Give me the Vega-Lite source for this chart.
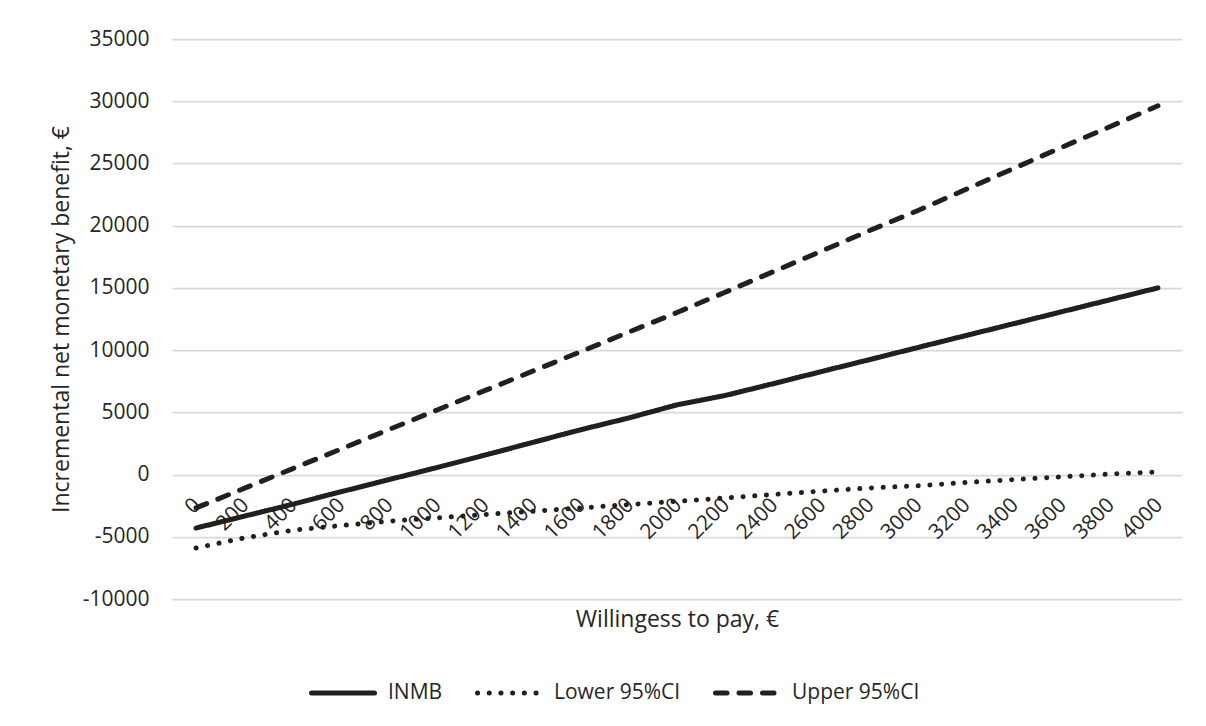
{
  "$schema": "https://vega.github.io/schema/vega-lite/v6.json",
  "width": 1010,
  "height": 560,
  "autosize": {"type": "none"},
  "padding": {"left": 172, "top": 39, "right": 24, "bottom": 127},
  "background": "white",
  "config": {"view": {"stroke": null}, "font": "Open Sans"},
  "data": {
    "values": [
      {"wtp": 0, "series": "INMB", "value": -4300},
      {"wtp": 200, "series": "INMB", "value": -3350},
      {"wtp": 400, "series": "INMB", "value": -2400},
      {"wtp": 600, "series": "INMB", "value": -1400},
      {"wtp": 800, "series": "INMB", "value": -420},
      {"wtp": 1000, "series": "INMB", "value": 550},
      {"wtp": 1200, "series": "INMB", "value": 1550},
      {"wtp": 1400, "series": "INMB", "value": 2580},
      {"wtp": 1600, "series": "INMB", "value": 3600},
      {"wtp": 1800, "series": "INMB", "value": 4550},
      {"wtp": 2000, "series": "INMB", "value": 5600},
      {"wtp": 2200, "series": "INMB", "value": 6350},
      {"wtp": 2400, "series": "INMB", "value": 7300},
      {"wtp": 2600, "series": "INMB", "value": 8270},
      {"wtp": 2800, "series": "INMB", "value": 9230},
      {"wtp": 3000, "series": "INMB", "value": 10200},
      {"wtp": 3200, "series": "INMB", "value": 11160},
      {"wtp": 3400, "series": "INMB", "value": 12120},
      {"wtp": 3600, "series": "INMB", "value": 13080},
      {"wtp": 3800, "series": "INMB", "value": 14040},
      {"wtp": 4000, "series": "INMB", "value": 15000},
      {"wtp": 0, "series": "Lower 95%CI", "value": -5900},
      {"wtp": 200, "series": "Lower 95%CI", "value": -5090},
      {"wtp": 400, "series": "Lower 95%CI", "value": -4480},
      {"wtp": 600, "series": "Lower 95%CI", "value": -4100},
      {"wtp": 800, "series": "Lower 95%CI", "value": -3750},
      {"wtp": 1000, "series": "Lower 95%CI", "value": -3480},
      {"wtp": 1200, "series": "Lower 95%CI", "value": -3210},
      {"wtp": 1400, "series": "Lower 95%CI", "value": -2950},
      {"wtp": 1600, "series": "Lower 95%CI", "value": -2680},
      {"wtp": 1800, "series": "Lower 95%CI", "value": -2410},
      {"wtp": 2000, "series": "Lower 95%CI", "value": -2150},
      {"wtp": 2200, "series": "Lower 95%CI", "value": -1880},
      {"wtp": 2400, "series": "Lower 95%CI", "value": -1600},
      {"wtp": 2600, "series": "Lower 95%CI", "value": -1330},
      {"wtp": 2800, "series": "Lower 95%CI", "value": -1080},
      {"wtp": 3000, "series": "Lower 95%CI", "value": -900},
      {"wtp": 3200, "series": "Lower 95%CI", "value": -640},
      {"wtp": 3400, "series": "Lower 95%CI", "value": -400},
      {"wtp": 3600, "series": "Lower 95%CI", "value": -180},
      {"wtp": 3800, "series": "Lower 95%CI", "value": 40},
      {"wtp": 4000, "series": "Lower 95%CI", "value": 215},
      {"wtp": 0, "series": "Upper 95%CI", "value": -2680},
      {"wtp": 200, "series": "Upper 95%CI", "value": -1110},
      {"wtp": 400, "series": "Upper 95%CI", "value": 460},
      {"wtp": 600, "series": "Upper 95%CI", "value": 2030},
      {"wtp": 800, "series": "Upper 95%CI", "value": 3600},
      {"wtp": 1000, "series": "Upper 95%CI", "value": 5170},
      {"wtp": 1200, "series": "Upper 95%CI", "value": 6740},
      {"wtp": 1400, "series": "Upper 95%CI", "value": 8310},
      {"wtp": 1600, "series": "Upper 95%CI", "value": 9880},
      {"wtp": 1800, "series": "Upper 95%CI", "value": 11450},
      {"wtp": 2000, "series": "Upper 95%CI", "value": 13020},
      {"wtp": 2200, "series": "Upper 95%CI", "value": 14650},
      {"wtp": 2400, "series": "Upper 95%CI", "value": 16300},
      {"wtp": 2600, "series": "Upper 95%CI", "value": 17950},
      {"wtp": 2800, "series": "Upper 95%CI", "value": 19600},
      {"wtp": 3000, "series": "Upper 95%CI", "value": 21200},
      {"wtp": 3200, "series": "Upper 95%CI", "value": 22900},
      {"wtp": 3400, "series": "Upper 95%CI", "value": 24600},
      {"wtp": 3600, "series": "Upper 95%CI", "value": 26300},
      {"wtp": 3800, "series": "Upper 95%CI", "value": 27950},
      {"wtp": 4000, "series": "Upper 95%CI", "value": 29630}
    ]
  },
  "mark": {"type": "line", "strokeWidth": 5, "color": "#231f20", "strokeCap": "round", "strokeJoin": "round"},
  "encoding": {
    "x": {
      "field": "wtp",
      "type": "ordinal",
      "scale": {"type": "point", "padding": 0.5},
      "axis": {
        "title": "Willingess to pay, €",
        "offset": -124.44,
        "labelAngle": -45,
        "labelAlign": "right",
        "labelBaseline": "middle",
        "labelPadding": 27,
        "labelOffset": 1,
        "ticks": false,
        "domain": false,
        "grid": false,
        "labelFontSize": 21,
        "labelColor": "#262626",
        "labelOverlap": false,
        "labelBound": false,
        "labelFlush": false,
        "titleFontSize": 23,
        "titleFontWeight": "normal",
        "titleColor": "#262626",
        "titleY": 145,
        "titleBaseline": "middle"
      }
    },
    "y": {
      "field": "value",
      "type": "quantitative",
      "scale": {"domain": [-10000, 35000], "nice": false, "zero": false},
      "axis": {
        "title": "Incremental net monetary benefit, €",
        "values": [-10000, -5000, 0, 5000, 10000, 15000, 20000, 25000, 30000, 35000],
        "labelExpr": "datum.value < 0 ? '-' + abs(datum.value) : '' + datum.value",
        "grid": true,
        "gridColor": "#d9d9d9",
        "gridWidth": 1.75,
        "ticks": false,
        "domain": false,
        "labelPadding": 23,
        "labelFontSize": 21,
        "labelColor": "#262626",
        "titleFontSize": 23,
        "titleFontWeight": "normal",
        "titleColor": "#262626",
        "titleX": -110.5,
        "titleBaseline": "middle"
      }
    },
    "strokeDash": {
      "field": "series",
      "type": "nominal",
      "scale": {
        "domain": ["INMB", "Lower 95%CI", "Upper 95%CI"],
        "range": [[1, 0], [0.1, 11.6], [11.5, 12]]
      },
      "legend": {
        "orient": "none",
        "legendX": 137,
        "legendY": 620,
        "direction": "horizontal",
        "title": null,
        "symbolType": "stroke",
        "symbolSize": 3969,
        "symbolStrokeWidth": 5,
        "symbolStrokeColor": "#231f20",
        "labelFontSize": 21,
        "labelColor": "#262626",
        "labelOffset": 11,
        "columnPadding": 24,
        "padding": 0,
        "encode": {"symbols": {"update": {"strokeCap": {"value": "round"}}}}
      }
    }
  }
}
